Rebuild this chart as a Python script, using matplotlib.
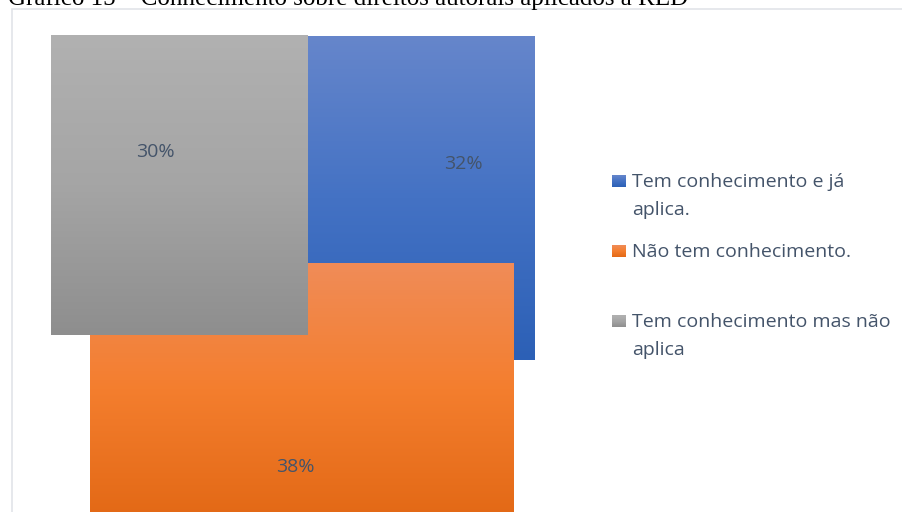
import numpy as np
import matplotlib
matplotlib.use("Agg")
import matplotlib.pyplot as plt
from matplotlib.colors import LinearSegmentedColormap
from matplotlib.patches import Wedge, Rectangle

# survey answers (percent of respondents)
categories = ["Tem conhecimento e já aplica.",
              "Não tem conhecimento.",
              "Tem conhecimento mas não aplica"]
legend_labels = ["Tem conhecimento e já\naplica.",
                 "Não tem conhecimento.",
                 "Tem conhecimento mas não\naplica"]
values = [32, 38, 30]

title = "Gráfico 15 – Conhecimento sobre direitos autorais aplicados a RED"

# gradient stops per slice (top, middle, bottom)
gradients = [["#6686cb", "#4472c4", "#2c60b6"],
             ["#f08c58", "#f47e2e", "#e36916"],
             ["#b1b1b1", "#a5a5a5", "#8e8e8e"]]
TEXT = "#44546a"

# layout in pixels (y measured upwards from the bottom of the figure)
W, H = 902, 512
CENTER = (308, 249)
RADIUS = 227
LABEL_R = [0.81, 0.90, 0.83]
# fill boxes spill a little past the wedge bounds (left, right, bottom, top)
BLEED = [(0, 0, 0, 0), (2, 0, 25, 0), (30, 0, 2, 0)]
LEG_X, LEG_Y0, LEG_STEP, LEG_LINE = 612, H - 187, 70, 28

plt.rcParams["font.family"] = ["Open Sans", "DejaVu Sans"]

fig = plt.figure(figsize=(W / 100, H / 100), dpi=100)
ax = fig.add_axes([0, 0, 1, 1])


def gradient_box(x0, x1, y0, y1, stops, z):
    cmap = LinearSegmentedColormap.from_list("g", stops, N=1024)
    grad = np.linspace(0, 1, 1024).reshape(-1, 1)
    ax.imshow(grad, cmap=cmap, extent=(x0, x1, y0, y1), aspect="auto",
              interpolation="bilinear", zorder=z)


# slices start at 12 o'clock and run clockwise; each one is filled over its
# bounding box rather than the wedge itself
frac = np.cumsum([0] + values) / float(sum(values))
for i, v in enumerate(values):
    s, e = frac[i], frac[i + 1]
    wd = Wedge(CENTER, RADIUS, 90 - 360 * e, 90 - 360 * s)
    bb = wd.get_path().get_extents()
    pl, pr, pb, pt = BLEED[i]
    gradient_box(bb.x0 - pl, bb.x1 + pr, bb.y0 - pb, bb.y1 + pt, gradients[i], 2 + i)

    mid = np.deg2rad(90 - 360 * (s + e) / 2)
    lx = CENTER[0] + LABEL_R[i] * RADIUS * np.cos(mid)
    ly = CENTER[1] + LABEL_R[i] * RADIUS * np.sin(mid)
    ax.text(lx, ly, "%d%%" % v, color=TEXT, fontsize=14, ha="center",
            va="center", zorder=10)

# legend: marker sits on the baseline of the first line
for i, lab in enumerate(legend_labels):
    by = LEG_Y0 - i * LEG_STEP
    gradient_box(LEG_X, LEG_X + 14, by, by + 12, gradients[i], 8)
    for k, line in enumerate(lab.split("\n")):
        ax.text(LEG_X + 20, by - k * LEG_LINE, line, color=TEXT, fontsize=14,
                ha="left", va="baseline", zorder=10)

# chart area frame
ax.add_patch(Rectangle((12, -10), W, H - 9 + 10, facecolor="none",
                       edgecolor="#e1e4e9", linewidth=1.2, zorder=1))

# caption above the chart, only its lower part falls inside the image
ax.text(8, H - 5, title, fontsize=18, family="Liberation Serif",
        color="black", ha="left", va="baseline", zorder=10)

ax.set_xlim(0, W)
ax.set_ylim(0, H)
ax.axis("off")
fig.savefig("out.png", dpi=100, facecolor="white")
